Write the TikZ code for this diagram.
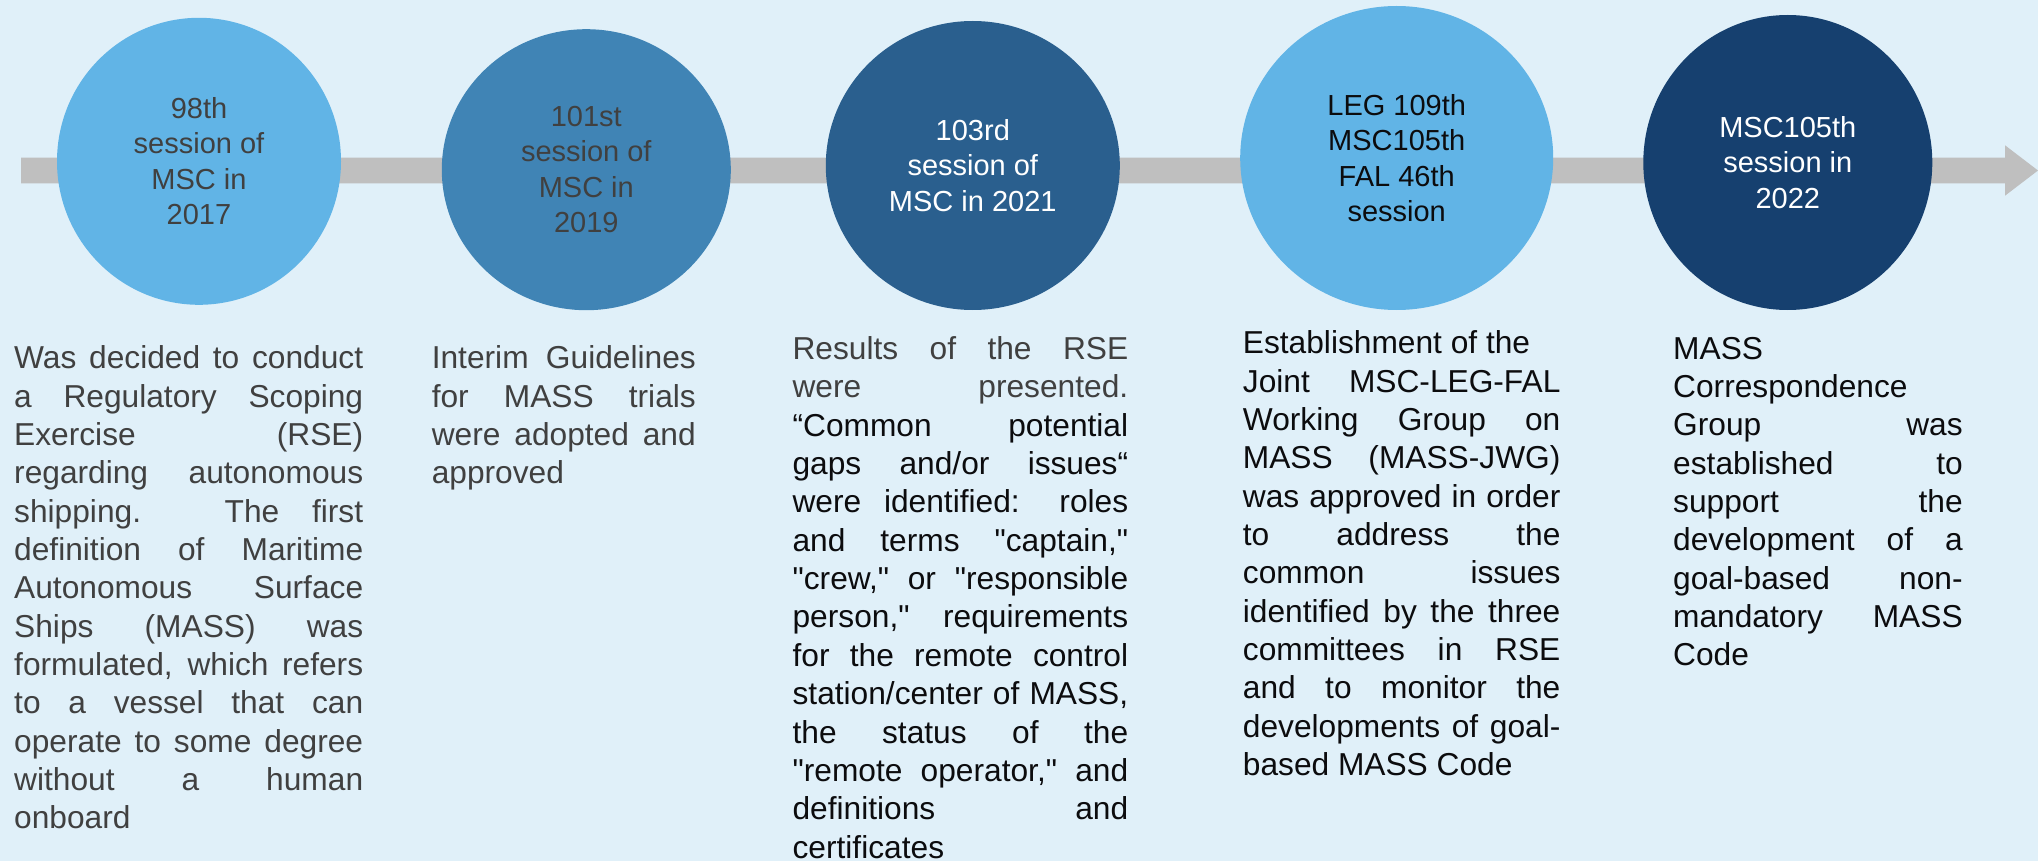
\documentclass[tikz,border=0pt]{standalone}
\usepackage{fontspec}
\setmainfont{Liberation Sans}[Ligatures=NoCommon]
% same face without TeX quote mapping, so straight quotes stay straight
\newfontfamily\plainsans{Liberation Sans}[Ligatures=NoCommon]
\usetikzlibrary{shapes.geometric}

\definecolor{bgblue}{RGB}{224,240,249}
\definecolor{skyblue}{RGB}{97,180,230}
\definecolor{midblue}{RGB}{64,132,181}
\definecolor{steelblue}{RGB}{42,95,142}
\definecolor{navyblue}{RGB}{22,64,111}
\definecolor{bargray}{RGB}{191,191,191}
\definecolor{darktext}{RGB}{64,64,64}
\definecolor{blacktext}{RGB}{12,12,14}

% one fully justified line of a note
\newcommand\jline[1]{\makebox[\linewidth][s]{#1}\\}

\begin{document}
\begin{tikzpicture}[x=1pt,y=-1pt,
  session/.style={ellipse, inner sep=0pt, align=center,
    font=\plainsans\fontsize{29}{35.4}\selectfont},
  notes/.style={anchor=base west, inner sep=0pt,
    font=\plainsans\fontsize{31.7}{38.35}\selectfont}]

% page background
\fill[bgblue] (0,0) rectangle (2038,861);
\useasboundingbox (0,0) rectangle (2038,861);

% timeline bar with arrow head
\coordinate (tlstart) at (21,170.5);
\coordinate (tltip) at (2038,170.5);
\fill[bargray] (tlstart) ++(0,-12.8) -- (2005,157.7) -- (2005,145.3)
  -- (tltip) -- (2005,195.7) -- (2005,183.3) -- (21,183.3) -- cycle;

% sessions
\node[session, fill=skyblue, text=darktext, minimum width=284pt, minimum height=287pt]
  (s1) at (199,161.3) {98th\\session of\\MSC in\\2017};
\node[session, fill=midblue, text=darktext, minimum width=289pt, minimum height=281pt]
  (s2) at (586.3,169.7) {101st\\session of\\MSC in\\2019};
\node[session, fill=steelblue, text=white, minimum width=294pt, minimum height=289pt]
  (s3) at (972.8,165.5) {103rd\\session of\\MSC in 2021};
\node[session, fill=skyblue, text=blacktext, minimum width=313pt, minimum height=304pt]
  (s4) at (1396.7,158) {LEG 109th\\MSC105th\\FAL 46th\\session};
\node[session, fill=navyblue, text=white, minimum width=289pt, minimum height=295pt]
  (s5) at (1787.8,162.5) {MSC105th\\session in\\2022};

% notes under each session
\node[notes, text=darktext] (n1) at (14,368.7) {\parbox[t]{349pt}{%
\jline{Was decided to conduct}
\jline{a Regulatory Scoping}
\jline{Exercise (RSE)}
\jline{regarding autonomous}
\jline{shipping. The first}
\jline{definition of Maritime}
\jline{Autonomous Surface}
\jline{Ships (MASS) was}
\jline{formulated, which refers}
\jline{to a vessel that can}
\jline{operate to some degree}
\jline{without a human}
onboard}};

\node[notes, text=darktext] (n2) at (431.6,368.7) {\parbox[t]{264pt}{%
\jline{Interim Guidelines}
\jline{for MASS trials}
\jline{were adopted and}
approved}};

\node[notes, text=blacktext] (n3) at (792.4,359.5) {\parbox[t]{335.6pt}{%
\jline{\color{darktext}Results of the RSE}
\jline{\color{darktext}were presented.}
\jline{“Common potential}
\jline{gaps and/or issues“}
\jline{were identified: roles}
\jline{and terms "captain,"}
\jline{"crew," or "responsible}
\jline{person," requirements}
\jline{for the remote control}
\jline{station/center of MASS,}
\jline{the status of the}
\jline{"remote operator," and}
\jline{definitions and}
certificates}};

\node[notes, text=blacktext] (n4) at (1242.7,353.7) {\parbox[t]{317.5pt}{%
Establishment of the\\
\jline{Joint MSC-LEG-FAL}
\jline{Working Group on}
\jline{MASS (MASS-JWG)}
\jline{was approved in order}
\jline{to address the}
\jline{common issues}
\jline{identified by the three}
\jline{committees in RSE}
\jline{and to monitor the}
\jline{developments of goal-}
based MASS Code}};

\node[notes, text=blacktext] (n5) at (1673,359) {\parbox[t]{289.5pt}{%
MASS\\
Correspondence\\
\jline{Group was}
\jline{established to}
\jline{support the}
\jline{development of a}
\jline{goal-based non-}
\jline{mandatory MASS}
Code}};
\end{tikzpicture}
\end{document}
